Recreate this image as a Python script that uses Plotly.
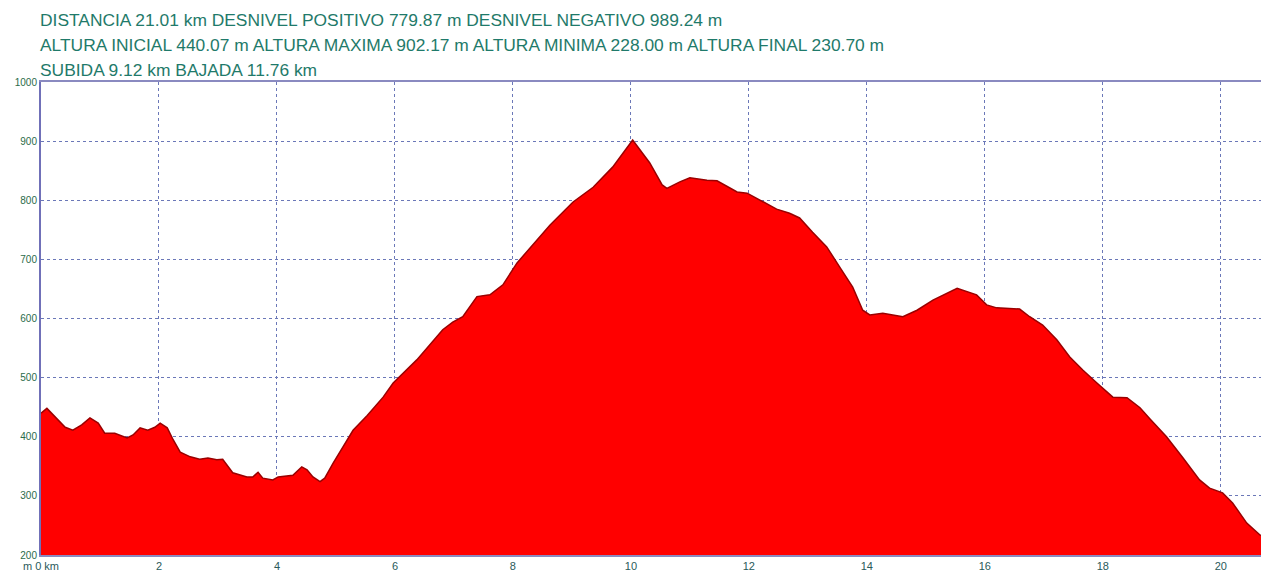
import plotly.graph_objects as go

distance_km = [0.0, 0.10, 0.41, 0.54, 0.69, 0.83, 0.97, 1.08, 1.25, 1.46, 1.56, 1.68, 1.81, 1.93,
               2.02, 2.14, 2.24, 2.36, 2.53, 2.69, 2.83, 2.98, 3.08, 3.20, 3.25, 3.49, 3.59, 3.68,
               3.76, 3.93, 4.02, 4.27, 4.42, 4.51, 4.61, 4.73, 4.81, 4.95, 5.12, 5.29, 5.53, 5.80,
               5.97, 6.37, 6.81, 6.98, 7.15, 7.39, 7.61, 7.83, 8.07, 8.34, 8.63, 9.02, 9.36, 9.69,
               10.03, 10.32, 10.53, 10.61, 10.83, 11.00, 11.29, 11.46, 11.63, 11.80, 11.97, 12.24,
               12.47, 12.69, 12.86, 13.08, 13.32, 13.54, 13.76, 13.93, 14.05, 14.27, 14.61, 14.85,
               15.12, 15.53, 15.86, 16.03, 16.20, 16.59, 16.76, 16.98, 17.22, 17.44, 17.66, 17.90,
               18.17, 18.41, 18.63, 18.80, 19.08, 19.36, 19.64, 19.81, 20.03, 20.20, 20.44, 20.66,
               20.80]
elevation_m = [440, 448, 416, 411, 420, 432, 423, 406, 406, 398, 403, 415, 411, 416,
               423, 415, 395, 374, 366, 362, 364, 361, 362, 347, 339, 332, 332, 340,
               330, 327, 332, 335, 349, 344, 332, 324, 330, 355, 383, 411, 436, 467,
               491, 530, 581, 594, 603, 637, 640, 657, 694, 724, 758, 797, 822, 856,
               902, 863, 826, 820, 831, 838, 834, 833, 823, 814, 812, 797,
               785, 778, 770, 746, 721, 687, 653, 614, 606, 609, 603, 614,
               631, 651, 640, 623, 618, 616, 603, 589, 564, 535, 513, 491,
               467, 466, 449, 430, 400, 364, 327, 313, 305, 288, 254, 234,
               231]

x_tick_vals = [0, 2, 4, 6, 8, 10, 12, 14, 16, 18, 20]
x_tick_text = ["m 0 km", "2", "4", "6", "8", "10", "12", "14", "16", "18", "20"]
y_tick_vals = [200, 300, 400, 500, 600, 700, 800, 900, 1000]
y_tick_text = ["200", "300", "400", "500", "600", "700", "800", "900", "1000"]

header_lines = [
    "DISTANCIA 21.01 km DESNIVEL POSITIVO 779.87 m DESNIVEL NEGATIVO 989.24 m",
    "ALTURA INICIAL 440.07 m ALTURA MAXIMA 902.17 m ALTURA MINIMA 228.00 m ALTURA FINAL 230.70 m",
    "SUBIDA 9.12 km BAJADA 11.76 km",
]

fig = go.Figure()
fig.add_trace(go.Scatter(
    x=distance_km, y=elevation_m, mode="lines", fill="tozeroy",
    line=dict(color="#9a0000", width=1.5), fillcolor="#ff0000",
    hoverinfo="x+y", showlegend=False,
))

grid_color = "#6b78b8"
fig.update_layout(
    width=1261, height=564,
    margin=dict(l=33, r=1, t=74, b=17),
    paper_bgcolor="white", plot_bgcolor="white",
    font=dict(family="Liberation Sans, Arial, sans-serif", color="#2a6b5a", size=10),
    xaxis=dict(range=[0, 20.8], tickvals=x_tick_vals, ticktext=x_tick_text,
               showgrid=True, gridcolor=grid_color, griddash="dot", gridwidth=1,
               showline=True, linecolor="#8a8ac0", linewidth=2, mirror=True,
               ticks="", zeroline=False, automargin=False, ticklabelstandoff=0,
               tickfont=dict(size=11, color="#2a5a5a")),
    yaxis=dict(range=[200, 1000], tickvals=y_tick_vals, ticktext=y_tick_text,
               showgrid=True, gridcolor=grid_color, griddash="dot", gridwidth=1,
               showline=True, linecolor="#7070b8", linewidth=2, mirror=True,
               ticks="", zeroline=False, automargin=False, ticklabelstandoff=0,
               tickfont=dict(size=10, color="#2a6b4a")),
)

for i, line in enumerate(header_lines):
    fig.add_annotation(
        text=line, xref="paper", yref="paper", x=0, y=1 + (62 - i * 25) / 473.0,
        xanchor="left", yanchor="middle", showarrow=False, xshift=-3,
        font=dict(family="Liberation Sans, Arial, sans-serif", size=17.4, color="#1f7a6a"),
    )

fig.write_html("out.html")
